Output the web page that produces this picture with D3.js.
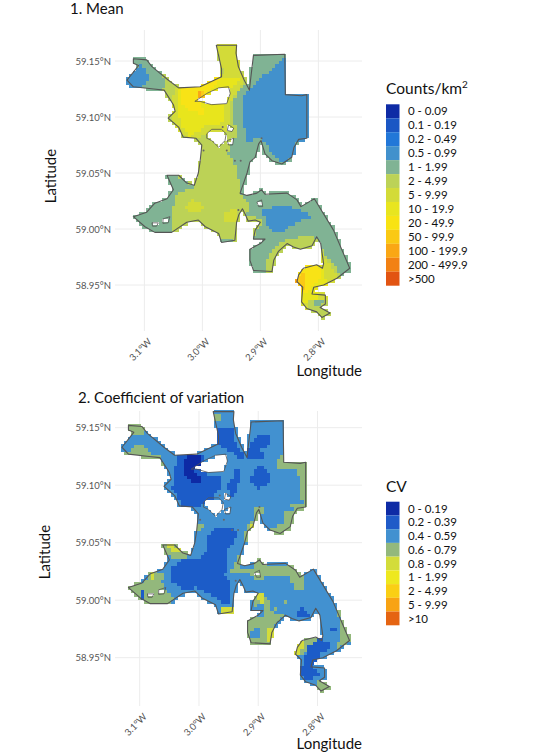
<!DOCTYPE html>
<html>
<head>
<meta charset="utf-8">
<script src="https://cdnjs.cloudflare.com/ajax/libs/d3/7.8.5/d3.min.js"></script>
<style>
  html, body { margin: 0; padding: 0; background: #fff; }
  text { font-family: Lato, "Open Sans", sans-serif; }
</style>
</head>
<body>
<svg id="chart" width="534" height="756"></svg>
<script>
// study area boundary, [lon, lat]
var outline = [[-2.976,59.164],[-2.941,59.164],[-2.942,59.157],[-2.938,59.145],[-2.928,59.133],[-2.919,59.124],[-2.917,59.133],[-2.912,59.155],[-2.858,59.156],[-2.857,59.120],[-2.829,59.119],[-2.820,59.120],[-2.820,59.081],[-2.834,59.080],[-2.842,59.073],[-2.846,59.064],[-2.863,59.058],[-2.880,59.061],[-2.892,59.067],[-2.899,59.079],[-2.903,59.076],[-2.909,59.064],[-2.918,59.060],[-2.923,59.050],[-2.935,59.032],[-2.923,59.030],[-2.906,59.032],[-2.898,59.035],[-2.892,59.031],[-2.854,59.032],[-2.837,59.026],[-2.830,59.020],[-2.807,59.027],[-2.774,58.999],[-2.746,58.965],[-2.768,58.956],[-2.791,58.950],[-2.808,58.948],[-2.811,58.942],[-2.788,58.941],[-2.788,58.933],[-2.797,58.930],[-2.780,58.925],[-2.794,58.921],[-2.803,58.926],[-2.820,58.929],[-2.829,58.935],[-2.827,58.948],[-2.837,58.953],[-2.834,58.959],[-2.826,58.965],[-2.803,58.968],[-2.793,58.965],[-2.791,58.969],[-2.796,58.987],[-2.803,58.993],[-2.811,58.985],[-2.831,58.982],[-2.843,58.984],[-2.854,58.987],[-2.869,58.980],[-2.877,58.972],[-2.880,58.962],[-2.912,58.963],[-2.918,58.972],[-2.918,58.982],[-2.900,58.987],[-2.892,58.991],[-2.912,58.991],[-2.909,58.999],[-2.900,59.006],[-2.909,59.008],[-2.921,59.007],[-2.926,59.013],[-2.931,59.018],[-2.937,59.013],[-2.941,59.006],[-2.944,58.990],[-2.967,58.988],[-2.972,58.996],[-2.995,59.002],[-3.007,59.008],[-3.027,59.006],[-3.053,58.997],[-3.082,58.997],[-3.099,59.002],[-3.119,59.011],[-3.096,59.015],[-3.082,59.023],[-3.061,59.027],[-3.050,59.035],[-3.061,59.048],[-3.041,59.048],[-3.027,59.041],[-3.014,59.039],[-3.007,59.050],[-3.004,59.060],[-3.001,59.075],[-3.011,59.081],[-3.033,59.082],[-3.041,59.091],[-3.059,59.099],[-3.047,59.105],[-3.050,59.111],[-3.066,59.124],[-3.084,59.125],[-3.119,59.127],[-3.130,59.133],[-3.119,59.140],[-3.110,59.146],[-3.119,59.148],[-3.119,59.152],[-3.096,59.151],[-3.087,59.145],[-3.059,59.133],[-3.041,59.126],[-3.004,59.127],[-2.967,59.136],[-2.967,59.143]];

var holes = [
  [[-3.013,59.114],[-2.9925,59.121],[-2.972,59.126],[-2.955,59.127],[-2.952,59.121],[-2.958,59.112],[-2.984,59.111],[-3.004,59.114]],
  [[-2.9925,59.085],[-2.984,59.089],[-2.967,59.089],[-2.959,59.085],[-2.961,59.079],[-2.972,59.073],[-2.984,59.079],[-2.9925,59.081]],
  [[-2.955,59.093],[-2.946,59.090],[-2.949,59.087],[-2.957,59.088]],
  [[-2.957,59.079],[-2.946,59.081],[-2.948,59.075],[-2.955,59.075]],
  [[-2.906,59.024],[-2.898,59.026],[-2.896,59.020],[-2.903,59.020]],
  [[-3.087,59.0055],[-3.076,59.0055],[-3.079,59.0025],[-3.086,59.0025]],
  [[-3.068,59.009],[-3.056,59.011],[-3.059,59.0055],[-3.068,59.005]]
];

var islets = [[-2.998,59.070],[-2.958,59.070],[-2.944,59.061],[-2.934,59.061],[-2.938,59.017],[-2.965,59.091],[-2.898,59.081]];

var lonTicks = [-3.1, -3.0, -2.9, -2.8];
var latTicks = [59.15, 59.10, 59.05, 59.00, 58.95];

var meanLabels = ["0 - 0.09","0.1 - 0.19","0.2 - 0.49","0.5 - 0.99","1 - 1.99","2 - 4.99","5 - 9.99","10 - 19.9","20 - 49.9","50 - 99.9","100 - 199.9","200 - 499.9",">500"];
var meanColors = ["#0e2ba5","#1b57c4","#2277d8","#4291cc","#80b394","#bcd257","#d3db38","#e8e51f","#f8e313","#fac914","#faa715","#f28113","#e25412"];
var cvLabels = ["0 - 0.19","0.2 - 0.39","0.4 - 0.59","0.6 - 0.79","0.8 - 0.99","1 - 1.99","2 - 4.99","5 - 9.99",">10"];
var cvColors = ["#0e2ba5","#1f5bc8","#4291d0","#93b87c","#d3dc3a","#eee81f","#facf14","#f8a313","#e56412"];

// class areas: [class index, [lon, lat]...], later ones paint over earlier ones
var meanBase = 5;
var meanAreas = [
  [4, [[-3.136,59.157],[-3.090,59.157],[-3.064,59.133],[-3.070,59.121],[-3.136,59.121]]],
  [3, [[-3.107,59.148],[-3.095,59.139],[-3.095,59.132],[-3.107,59.127],[-3.136,59.127],[-3.136,59.136],[-3.119,59.140]]],
  [4, [[-2.921,59.139],[-2.912,59.160],[-2.849,59.160],[-2.849,59.124],[-2.808,59.124],[-2.808,59.053],[-2.900,59.053],[-2.918,59.047],[-2.929,59.029],[-2.935,59.032],[-2.940,59.053],[-2.946,59.060],[-2.957,59.069],[-2.946,59.079],[-2.941,59.088],[-2.949,59.103],[-2.949,59.115],[-2.938,59.123],[-2.923,59.130]]],
  [3, [[-2.932,59.118],[-2.918,59.127],[-2.889,59.139],[-2.858,59.154],[-2.849,59.154],[-2.849,59.121],[-2.814,59.121],[-2.814,59.079],[-2.837,59.079],[-2.843,59.066],[-2.860,59.060],[-2.880,59.066],[-2.892,59.079],[-2.900,59.082],[-2.923,59.078],[-2.927,59.091],[-2.932,59.103]]],
  [4, [[-2.935,59.032],[-2.923,59.035],[-2.895,59.038],[-2.803,59.031],[-2.734,58.965],[-2.757,58.957],[-2.765,58.963],[-2.780,58.972],[-2.791,58.981],[-2.797,58.987],[-2.811,58.994],[-2.837,58.993],[-2.860,58.990],[-2.886,58.978],[-2.892,58.960],[-2.923,58.960],[-2.923,58.987],[-2.906,58.999],[-2.895,59.008],[-2.923,59.014],[-2.918,59.023],[-2.929,59.029]]],
  [3, [[-2.895,59.017],[-2.866,59.023],[-2.831,59.018],[-2.806,59.009],[-2.829,59.009],[-2.849,59.002],[-2.869,58.996],[-2.889,59.003]]],
  [4, [[-3.130,59.017],[-3.056,59.053],[-3.015,59.038],[-3.044,59.032],[-3.053,59.017],[-3.053,58.993],[-3.130,58.993]]],
  [4, [[-2.969,58.991],[-2.949,58.991],[-2.949,58.985],[-2.969,58.985]]],
  [6, [[-3.030,59.020],[-3.015,59.027],[-2.995,59.020],[-3.015,59.014]]],
  [6, [[-2.967,59.015],[-2.944,59.018],[-2.941,59.006],[-2.961,59.005]]],
  [6, [[-2.976,59.166],[-2.938,59.166],[-2.938,59.145],[-2.928,59.133],[-2.941,59.123],[-2.952,59.112],[-2.955,59.088],[-2.992,59.085],[-3.021,59.079],[-3.050,59.094],[-3.056,59.109],[-3.047,59.127],[-2.964,59.139]]],
  [7, [[-3.044,59.127],[-2.964,59.137],[-2.935,59.136],[-2.952,59.124],[-2.964,59.108],[-2.967,59.094],[-2.995,59.093],[-3.021,59.082],[-3.038,59.094],[-3.043,59.112]]],
  [8, [[-3.038,59.127],[-2.998,59.129],[-2.967,59.137],[-2.998,59.118],[-3.001,59.111],[-2.995,59.103],[-3.021,59.105],[-3.037,59.112]]],
  [9, [[-3.010,59.114],[-3.007,59.121],[-2.998,59.126],[-2.995,59.121],[-3.004,59.114]]],
  [10, [[-3.013,59.114],[-3.004,59.124],[-3.001,59.123],[-3.009,59.115]]],
  [6, [[-2.794,58.980],[-2.780,58.969],[-2.765,58.956],[-2.791,58.945],[-2.785,58.939],[-2.797,58.930],[-2.826,58.930],[-2.837,58.948],[-2.837,58.969]]],
  [7, [[-2.797,58.969],[-2.783,58.951],[-2.803,58.945],[-2.803,58.939],[-2.826,58.933],[-2.834,58.948],[-2.834,58.969]]],
  [8, [[-2.803,58.969],[-2.794,58.959],[-2.811,58.950],[-2.823,58.942],[-2.831,58.948],[-2.834,58.969]]],
  [9, [[-2.840,58.957],[-2.826,58.962],[-2.826,58.948],[-2.837,58.948]]],
  [10, [[-2.840,58.955],[-2.833,58.959],[-2.833,58.951],[-2.840,58.950]]],
  [5, [[-2.814,58.939],[-2.785,58.939],[-2.785,58.930],[-2.820,58.929]]],
  [4, [[-2.808,58.938],[-2.791,58.938],[-2.794,58.932],[-2.808,58.932]]]
];

var cvBase = 2;
var cvAreas = [
  [3, [[-3.125,59.154],[-3.094,59.154],[-3.094,59.145],[-3.114,59.145]]],
  [3, [[-3.133,59.131],[-3.114,59.129],[-3.108,59.136],[-3.094,59.135],[-3.080,59.128],[-3.063,59.125],[-3.057,59.110],[-3.068,59.110],[-3.080,59.119],[-3.099,59.118],[-3.122,59.123]]],
  [3, [[-2.871,59.118],[-2.858,59.129],[-2.852,59.120],[-2.812,59.122],[-2.812,59.078],[-2.838,59.080],[-2.846,59.083],[-2.826,59.086],[-2.829,59.107],[-2.840,59.116],[-2.852,59.114],[-2.863,59.114]]],
  [3, [[-2.855,59.078],[-2.835,59.081],[-2.812,59.078],[-2.835,59.058],[-2.852,59.054],[-2.869,59.057],[-2.877,59.062],[-2.857,59.068]]],
  [3, [[-2.908,59.081],[-2.891,59.081],[-2.897,59.070],[-2.914,59.051],[-2.928,59.051],[-2.925,59.058],[-2.914,59.067],[-2.905,59.073]]],
  [3, [[-3.007,59.067],[-2.992,59.067],[-2.998,59.060],[-3.007,59.060]]],
  [3, [[-3.066,59.049],[-3.029,59.049],[-3.015,59.036],[-3.049,59.038],[-3.063,59.042]]],
  [3, [[-3.125,59.012],[-3.091,59.017],[-3.083,59.025],[-3.057,59.025],[-3.063,59.015],[-3.043,59.002],[-3.057,58.992],[-3.088,58.994],[-3.116,59.004]]],
  [3, [[-2.945,59.026],[-2.933,59.039],[-2.928,59.029],[-2.908,59.026],[-2.908,59.036],[-2.897,59.036],[-2.891,59.031],[-2.852,59.032],[-2.824,59.023],[-2.824,59.010],[-2.840,59.010],[-2.846,59.022],[-2.885,59.023],[-2.897,59.017],[-2.908,59.020],[-2.919,59.025]]],
  [3, [[-2.922,58.983],[-2.888,58.986],[-2.891,59.000],[-2.908,58.994],[-2.911,59.007],[-2.894,59.007],[-2.883,59.000],[-2.877,58.991],[-2.857,58.987],[-2.877,58.977],[-2.869,58.971],[-2.885,58.959],[-2.916,58.959],[-2.922,58.968]]],
  [2, [[-2.908,58.977],[-2.896,58.977],[-2.896,58.969],[-2.914,58.969]]],
  [3, [[-2.770,58.994],[-2.764,58.994],[-2.739,58.965],[-2.773,58.958],[-2.759,58.968],[-2.762,58.980]]],
  [3, [[-2.804,58.931],[-2.784,58.931],[-2.776,58.922],[-2.801,58.919]]],
  [3, [[-2.978,59.164],[-2.965,59.164],[-2.965,59.158],[-2.973,59.158]]],
  [3, [[-2.829,58.964],[-2.812,58.969],[-2.793,58.969],[-2.818,58.959],[-2.824,58.954],[-2.838,58.951],[-2.840,58.957]]],
  [3, [[-2.860,59.002],[-2.852,59.002],[-2.852,58.998],[-2.860,58.998]]],
  [3, [[-2.874,58.994],[-2.869,58.994],[-2.869,58.991],[-2.874,58.991]]],
  [4, [[-3.102,59.121],[-3.077,59.125],[-3.091,59.118]]],
  [4, [[-3.061,59.049],[-3.044,59.049],[-3.029,59.042],[-3.046,59.044]]],
  [4, [[-3.084,59.025],[-3.070,59.025],[-3.080,59.019]]],
  [4, [[-2.965,58.993],[-2.942,58.995],[-2.942,58.988],[-2.961,58.988]]],
  [4, [[-2.902,59.006],[-2.891,59.006],[-2.891,58.998],[-2.902,59.000]]],
  [4, [[-2.888,58.980],[-2.866,58.972],[-2.885,58.962],[-2.883,58.972]]],
  [4, [[-2.847,59.065],[-2.838,59.067],[-2.843,59.062]]],
  [4, [[-2.915,59.067],[-2.904,59.069],[-2.912,59.063]]],
  [4, [[-2.915,58.963],[-2.904,58.963],[-2.908,58.959]]],
  [4, [[-2.825,58.967],[-2.821,58.964],[-2.830,58.956],[-2.834,58.949],[-2.842,58.954]]],
  [4, [[-3.037,59.113],[-3.029,59.113],[-3.032,59.109]]],
  [4, [[-2.925,59.092],[-2.917,59.092],[-2.918,59.089]]],
  [1, [[-3.039,59.128],[-2.992,59.128],[-2.990,59.122],[-3.001,59.112],[-2.984,59.110],[-2.965,59.110],[-2.964,59.100],[-2.976,59.089],[-2.990,59.088],[-3.001,59.081],[-3.029,59.082],[-3.036,59.090],[-3.046,59.097],[-3.040,59.107],[-3.039,59.119]]],
  [1, [[-2.967,59.151],[-2.941,59.151],[-2.941,59.139],[-2.924,59.128],[-2.928,59.123],[-2.947,59.129],[-2.961,59.134],[-2.970,59.136],[-2.967,59.145]]],
  [1, [[-2.922,59.123],[-2.916,59.132],[-2.902,59.145],[-2.880,59.144],[-2.883,59.132],[-2.894,59.131],[-2.892,59.123],[-2.908,59.122]]],
  [1, [[-2.908,59.112],[-2.897,59.118],[-2.880,59.110],[-2.880,59.102],[-2.897,59.097],[-2.914,59.104]]],
  [1, [[-2.952,59.103],[-2.936,59.106],[-2.936,59.094],[-2.947,59.091]]],
  [1, [[-2.939,59.116],[-2.930,59.115],[-2.930,59.104],[-2.939,59.104]]],
  [1, [[-2.987,59.055],[-2.970,59.065],[-2.947,59.065],[-2.931,59.058],[-2.942,59.051],[-2.953,59.044],[-2.950,59.029],[-2.959,59.023],[-2.945,59.015],[-2.945,58.997],[-2.961,58.999],[-2.984,59.006],[-3.004,59.012],[-3.023,59.009],[-3.046,59.017],[-3.046,59.029],[-3.032,59.035],[-2.995,59.038],[-2.984,59.046]]],
  [1, [[-2.838,58.991],[-2.824,58.994],[-2.810,58.987],[-2.832,58.984]]],
  [1, [[-2.779,58.977],[-2.768,58.978],[-2.768,58.973],[-2.777,58.973]]],
  [1, [[-2.824,58.945],[-2.818,58.959],[-2.793,58.968],[-2.776,58.961],[-2.795,58.954],[-2.807,58.942],[-2.793,58.936],[-2.807,58.933],[-2.824,58.931],[-2.829,58.936],[-2.830,58.942]]],
  [1, [[-3.099,59.009],[-3.091,59.009],[-3.091,59.002],[-3.097,59.002]]],
  [0, [[-3.029,59.118],[-3.018,59.127],[-2.994,59.128],[-3.001,59.116],[-3.009,59.112],[-2.995,59.107],[-2.998,59.101],[-3.012,59.102],[-3.023,59.110]]]
];

var svg = d3.select("svg#chart");

var defs = svg.append("defs");
defs.append("filter").attr("id", "soft")
  .append("feGaussianBlur").attr("stdDeviation", 0.6);

var cellLon = 0.0056, cellLat = 0.003;

function classAt(pt, areas, base) {
  var c = base;
  areas.forEach(function(a) {
    if (d3.polygonContains(a[1], pt)) c = a[0];
  });
  return c;
}

// a cell is kept when its centre or a point near it is on the water, so it can stick out past the shore a bit
function onWater(pt) {
  return [[0,0],[-.25,-.25],[.25,-.25],[-.25,.25],[.25,.25]].some(function(o) {
    return d3.polygonContains(outline, [pt[0] + o[0] * cellLon, pt[1] + o[1] * cellLat]);
  });
}

function makeCells(areas, base) {
  var cells = [];
  for (var i = 0; i < 76; i++) {
    for (var j = 0; j < 88; j++) {
      var pt = [-3.14 + i * cellLon, 58.915 + j * cellLat];
      if (!onWater(pt)) continue;
      var inHole = holes.some(function(h) { return d3.polygonContains(h, pt); });
      if (inHole) continue;
      cells.push({lon: pt[0], lat: pt[1], cls: classAt(pt, areas, base)});
    }
  }
  return cells;
}

function drawMap(o) {
  var x = d3.scaleLinear().domain([-3.1, -2.8]).range(o.xRange);
  var y = d3.scaleLinear().domain([59.15, 58.95]).range(o.yRange);

  // grid
  svg.append("g").selectAll("line").data(lonTicks).enter().append("line")
    .attr("x1", d => x(d)).attr("x2", d => x(d))
    .attr("y1", o.top).attr("y2", o.bottom)
    .attr("stroke", "#ececec").attr("stroke-width", 1);
  svg.append("g").selectAll("line").data(latTicks).enter().append("line")
    .attr("x1", o.left).attr("x2", o.right)
    .attr("y1", d => y(d)).attr("y2", d => y(d))
    .attr("stroke", "#ececec").attr("stroke-width", 1);

  // axes, labels only
  var ax = svg.append("g").attr("transform", "translate(0," + o.bottom + ")")
    .call(d3.axisBottom(x).tickValues(lonTicks).tickSize(0).tickFormat(d => Math.abs(d).toFixed(1) + "°W"));
  ax.select(".domain").remove();
  ax.selectAll("text")
    .attr("text-anchor", "end")
    .attr("dx", 0).attr("dy", "0.35em")
    .attr("transform", "translate(5,9) rotate(-45)")
    .attr("y", 0)
    .style("font-size", "9.5px").style("fill", "#555")
    .style("font-family", "Lato");

  var ay = svg.append("g").attr("transform", "translate(" + o.left + ",0)")
    .call(d3.axisLeft(y).tickValues(latTicks).tickSize(0).tickFormat(d => d.toFixed(2) + "°N"));
  ay.select(".domain").remove();
  ay.selectAll("text")
    .attr("x", -4)
    .style("font-size", "9.5px").style("fill", "#555")
    .style("font-family", "Lato");

  // surface
  var cells = makeCells(o.areas, o.base);
  var w = Math.abs(x(cellLon) - x(0));
  var h = Math.abs(y(cellLat) - y(0));
  svg.append("g").attr("filter", "url(#soft)").attr("shape-rendering", "crispEdges")
    .selectAll("rect").data(cells).enter().append("rect")
    .attr("x", d => x(d.lon) - w / 2)
    .attr("y", d => y(d.lat) - h / 2)
    .attr("width", w + 0.6)
    .attr("height", h + 0.6)
    .attr("fill", d => o.colors[d.cls]);

  // boundary
  var line = d3.line().x(d => x(d[0])).y(d => y(d[1])).curve(d3.curveLinearClosed);
  var shore = svg.append("g").attr("fill", "none").attr("stroke", "#555").attr("stroke-width", 1.1).attr("stroke-linejoin", "round");
  shore.append("path").attr("d", line(outline));
  shore.selectAll("path.hole").data(holes).enter().append("path").attr("class", "hole").attr("d", d => line(d)).attr("stroke-width", 0.8);
  shore.selectAll("circle").data(islets).enter().append("circle")
    .attr("cx", d => x(d[0])).attr("cy", d => y(d[1])).attr("r", 1)
    .attr("fill", "#666").attr("stroke", "none");

  // titles
  svg.append("text").attr("x", o.titleX).attr("y", o.titleY).text(o.title)
    .style("font-size", "15px").style("fill", "#111");
  svg.append("text").attr("transform", "translate(" + o.latX + "," + o.latY + ") rotate(-90)")
    .attr("text-anchor", "middle").text("Latitude")
    .style("font-size", "15px").style("fill", "#111");
  svg.append("text").attr("x", o.right).attr("y", o.lonY).attr("text-anchor", "end").text("Longitude")
    .style("font-size", "15px").style("fill", "#111");

  // legend
  var band = d3.scaleBand().domain(o.labels).range(o.legendY);
  var lg = svg.append("g");
  lg.selectAll("rect").data(o.labels).enter().append("rect")
    .attr("x", o.legendX).attr("y", d => band(d))
    .attr("width", 13.5).attr("height", band.bandwidth())
    .attr("fill", (d, i) => o.colors[i]);
  lg.selectAll("text").data(o.labels).enter().append("text")
    .attr("x", o.legendX + 22).attr("y", d => band(d) + band.bandwidth() / 2)
    .attr("dy", "0.36em").text(d => d)
    .style("font-size", "11.5px").style("fill", "#111");
  var lt = svg.append("text").attr("x", o.legendX).attr("y", o.legendTitleY)
    .style("font-size", "15.5px").style("fill", "#111");
  lt.append("tspan").text(o.legendTitle);
  if (o.legendSup) {
    lt.append("tspan").attr("dy", -6).style("font-size", "10px").text(o.legendSup);
  }
}

drawMap({
  xRange: [144.4, 318.4], yRange: [61, 285],
  left: 115, right: 362, top: 30, bottom: 331,
  areas: meanAreas, base: meanBase, colors: meanColors, labels: meanLabels,
  title: "1. Mean", titleX: 70, titleY: 14,
  latX: 56, latY: 176, lonY: 376,
  legendX: 386, legendY: [104.3, 285.7], legendTitle: "Counts/km", legendSup: "2", legendTitleY: 94
});

drawMap({
  xRange: [139.7, 317.5], yRange: [427.7, 657.7],
  left: 115, right: 362, top: 411, bottom: 706,
  areas: cvAreas, base: cvBase, colors: cvColors, labels: cvLabels,
  title: "2. Coefficient of variation", titleX: 78, titleY: 403,
  latX: 50, latY: 552, lonY: 749,
  legendX: 386, legendY: [501.7, 625.3], legendTitle: "CV", legendSup: null, legendTitleY: 492
});
</script>
</body>
</html>
